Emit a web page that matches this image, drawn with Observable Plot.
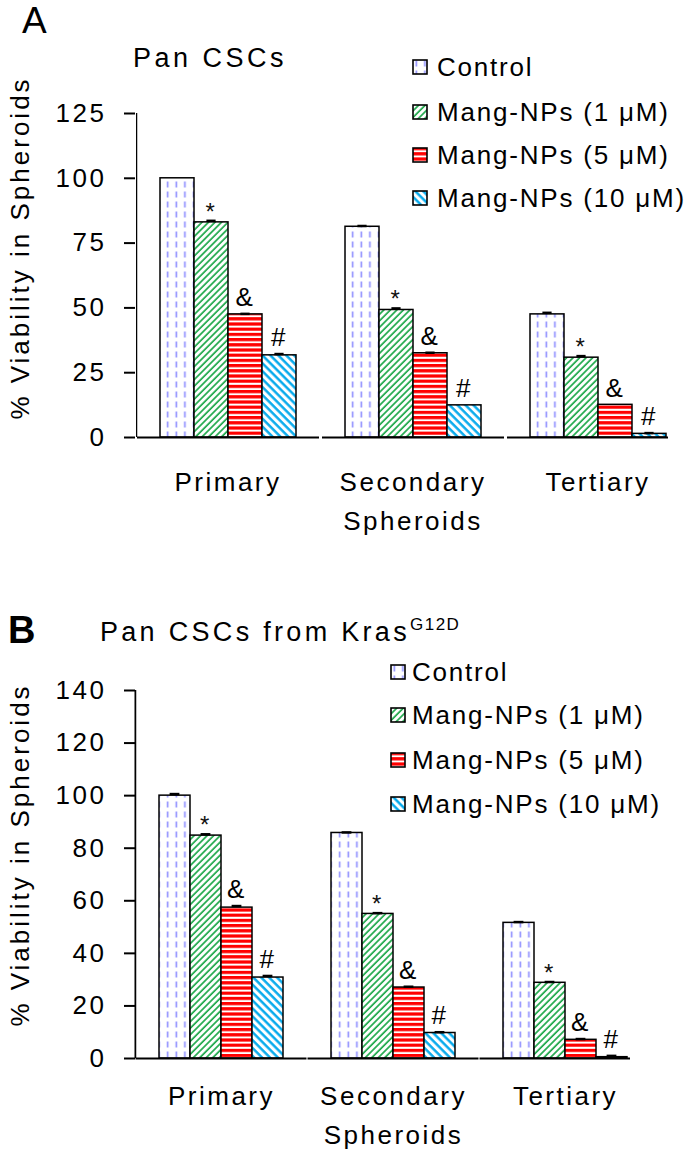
<!DOCTYPE html>
<html><head><meta charset="utf-8">
<script src="https://cdn.jsdelivr.net/npm/d3@7"></script>
<script src="https://cdn.jsdelivr.net/npm/@observablehq/plot@0.6"></script>
<style>
body{margin:0;background:#fff;}
#wrap{position:relative;width:700px;height:1151px;overflow:hidden;font-family:"Liberation Sans",Arial,sans-serif;color:#000;background:#fff;}
.abs{position:absolute;white-space:nowrap;line-height:1;}
</style></head><body>
<svg width="0" height="0" style="position:absolute">
<defs>
<pattern id="pCtrl" patternUnits="userSpaceOnUse" width="8.6" height="10"><rect width="8.6" height="10" fill="#fff"/><line x1="4.3" y1="1.5" x2="4.3" y2="7.5" stroke="#8c8cff" stroke-width="1.6"/></pattern>
<pattern id="p1" patternUnits="userSpaceOnUse" width="4.6" height="4.6" patternTransform="rotate(45)"><rect width="4.6" height="4.6" fill="#fff"/><line x1="1" y1="0" x2="1" y2="4.6" stroke="#1ea84a" stroke-width="1.7"/></pattern>
<pattern id="p5" patternUnits="userSpaceOnUse" width="10" height="5.2"><rect width="10" height="5.2" fill="#fff"/><rect y="0" width="10" height="3.2" fill="#ff0000"/></pattern>
<pattern id="p10" patternUnits="userSpaceOnUse" width="5.6" height="5.6" patternTransform="rotate(-45)"><rect width="5.6" height="5.6" fill="#fff"/><line x1="1.5" y1="0" x2="1.5" y2="5.6" stroke="#00a8ec" stroke-width="2.4"/></pattern>
</defs></svg>
<div id="wrap"></div>
<script>
// ---------- data ----------
const series = ["Control", "Mang-NPs (1 μM)", "Mang-NPs (5 μM)", "Mang-NPs (10 μM)"];
const categories = ["Primary", "Secondary", "Tertiary"];
const categoryLabels = ["Primary", "Secondary\nSpheroids", "Tertiary"];
const markers = ["", "*", "&", "#"];
const fills = ["url(#pCtrl)", "url(#p1)", "url(#p5)", "url(#p10)"];
const yTicksA = [0, 25, 50, 75, 100, 125];
const yTicksB = [0, 20, 40, 60, 80, 100, 120, 140];

// Panel A: Pan CSCs
const aControl = [100, 81.3, 47.5];
const aNP1 = [83.0, 49.2, 30.8];
const aNP5 = [47.5, 32.5, 12.6];
const aNP10 = [31.7, 12.4, 1.4];
const aErrControl = [0, 0.3, 0.6];
const aErrNP1 = [0.6, 0.6, 0.6];
const aErrNP5 = [0.2, 0.2, 0];
const aErrNP10 = [0.5, 0, 0.3];

// Panel B: Pan CSCs from KrasG12D
const bControl = [100, 85.8, 51.6];
const bNP1 = [84.8, 55.0, 28.8];
const bNP5 = [57.4, 27.0, 7.1];
const bNP10 = [30.8, 9.7, 0.5];
const bErrControl = [0.6, 0.2, 0.3];
const bErrNP1 = [0.5, 0.3, 0.3];
const bErrNP5 = [0.6, 0.3, 0.3];
const bErrNP10 = [0.6, 0.3, 0.5];

// ---------- tables ----------
function rowsOf(vals, errs) {
  const out = [];
  categories.forEach((c, ci) => series.forEach((s, si) => {
    out.push({cat: c, series: s, value: vals[si][ci], err: errs[si][ci], mark: markers[si]});
  }));
  return out;
}
const rowsA = rowsOf([aControl, aNP1, aNP5, aNP10], [aErrControl, aErrNP1, aErrNP5, aErrNP10]);
const rowsB = rowsOf([bControl, bNP1, bNP5, bNP10], [bErrControl, bErrNP1, bErrNP5, bErrNP10]);
const axisSegs = categories.map(c => ({cat: c, v: 0, from: series[0], to: series[series.length - 1]}));
const labelRows = categories.map((c, i) => ({cat: c, label: categoryLabels[i]}));

function panel({rows, yTicks, yMax, height, mt, mb, mr, po, lastInset, capInset, labDy}) {
  const facetW = (700 - 135 - mr) / categories.length;
  const step = facetW / (series.length + 2 * po);
  const pad = step * po;
  return Plot.plot({
    width: 700, height,
    marginTop: mt, marginBottom: mb, marginLeft: 135, marginRight: mr,
    style: {fontFamily: '"Liberation Sans", Arial, sans-serif', fontSize: "26px", letterSpacing: "2.5px", background: "none", overflow: "visible", color: "#000"},
    fx: {domain: categories, padding: 0, axis: null},
    x: {domain: series, paddingInner: 0, paddingOuter: po, axis: null},
    y: {domain: [0, yMax]},
    color: {domain: series, range: fills},
    marks: [
      Plot.barY(rows, {fx: "cat", x: "series", y: "value", fill: "series", stroke: "#000", strokeWidth: 1.5}),
      // y-axis line: a 2px bar pinned to the left edge of the first group
      Plot.barY(axisSegs.slice(0, 1), {fx: "cat", x: "from", y1: 0, y2: () => yMax, insetLeft: -pad - 1, insetRight: step + pad - 1, fill: "#000"}),
      // x-axis baseline (continuous across groups, ending at the last bar)
      Plot.ruleY(axisSegs.slice(0, 2), {fx: "cat", y: "v", x1: "from", x2: "to", insetLeft: -pad, insetRight: -pad, stroke: "#000", strokeWidth: 2}),
      Plot.ruleY(axisSegs.slice(2), {fx: "cat", y: "v", x1: "from", x2: "to", insetLeft: -pad, insetRight: -lastInset, stroke: "#000", strokeWidth: 2}),
      Plot.tickY(rows.filter(d => d.err > 0), {fx: "cat", x: "series", y: d => d.value + d.err, stroke: "#000", strokeWidth: 2.5, insetLeft: capInset, insetRight: capInset}),
      Plot.text(rows.filter(d => d.mark === "*"), {fx: "cat", x: "series", y: d => d.value + d.err, text: "mark", lineAnchor: "bottom", dy: -1, fontSize: 24, fill: "#111"}),
      Plot.text(rows.filter(d => d.mark && d.mark !== "*"), {fx: "cat", x: "series", y: d => d.value + d.err, text: "mark", lineAnchor: "bottom", dy: -8, fontSize: 26}),
      Plot.text(labelRows, {fx: "cat", text: "label", frameAnchor: "bottom", lineAnchor: "top", dy: labDy, lineHeight: 1.5, letterSpacing: "3px"}),
      Plot.axisY({ticks: yTicks, tickSize: 11, tickPadding: 18, strokeWidth: 2, label: null, tickFormat: d => String(d)})
    ]
  });
}

const wrap = document.getElementById("wrap");
const svgA = panel({rows: rowsA, yTicks: yTicksA, yMax: 125, height: 540, mt: 113, mb: 103, mr: 10, po: 0.662, lastInset: 2, capInset: 12.4, labDy: 26});
svgA.style.position = "absolute"; svgA.style.left = "0px"; svgA.style.top = "0px";
wrap.appendChild(svgA);
const svgB = panel({rows: rowsB, yTicks: yTicksB, yMax: 140, height: 591, mt: 130, mb: 93, mr: 49, po: 0.752, lastInset: 3, capInset: 10.6, labDy: 19});
svgB.style.position = "absolute"; svgB.style.left = "0px"; svgB.style.top = "560px";
wrap.appendChild(svgB);

// ---------- panel letters, titles, y labels ----------
function addText(html, left, top, css) {
  const d = document.createElement("div");
  d.className = "abs";
  d.innerHTML = html;
  d.style.left = left + "px"; d.style.top = top + "px";
  Object.assign(d.style, css || {});
  wrap.appendChild(d);
  return d;
}
addText("A", 22, 2, {fontSize: "37px"});
addText("Pan CSCs", 133, 45, {fontSize: "27px", letterSpacing: "3.5px"});
addText("B", 8, 611, {fontSize: "38px", fontWeight: "bold"});
addText('Pan CSCs from Kras<span style="font-size:17px;position:relative;top:-11px;letter-spacing:1.5px">G12D</span>', 100, 619, {fontSize: "27px", letterSpacing: "3.3px"});
function yLabel(cy) {
  addText("% Viability in Spheroids", 20, cy, {fontSize: "26px", letterSpacing: "3px", transform: "translate(-50%,-50%) rotate(-90deg)"});
}
yLabel(248);
yLabel(855);

// ---------- legends ----------
const svgNS = "http://www.w3.org/2000/svg";
function legend(swLeft, txtLeft, centers) {
  series.forEach((s, i) => {
    const sw = document.createElementNS(svgNS, "svg");
    sw.setAttribute("width", 16); sw.setAttribute("height", 16);
    sw.style.position = "absolute";
    sw.style.left = swLeft + "px"; sw.style.top = (centers[i] - 8) + "px";
    const rr = document.createElementNS(svgNS, "rect");
    rr.setAttribute("x", 1); rr.setAttribute("y", 1); rr.setAttribute("width", 14); rr.setAttribute("height", 14);
    rr.setAttribute("fill", fills[i]); rr.setAttribute("stroke", "#000"); rr.setAttribute("stroke-width", 1.6);
    sw.appendChild(rr);
    wrap.appendChild(sw);
    addText(s, txtLeft, centers[i] - 12.7, {fontSize: "26px", letterSpacing: "1.8px"});
  });
}
legend(412, 437, [67, 112, 155, 198]);
legend(390, 412, [672, 715, 760, 804]);
</script>
</body></html>
